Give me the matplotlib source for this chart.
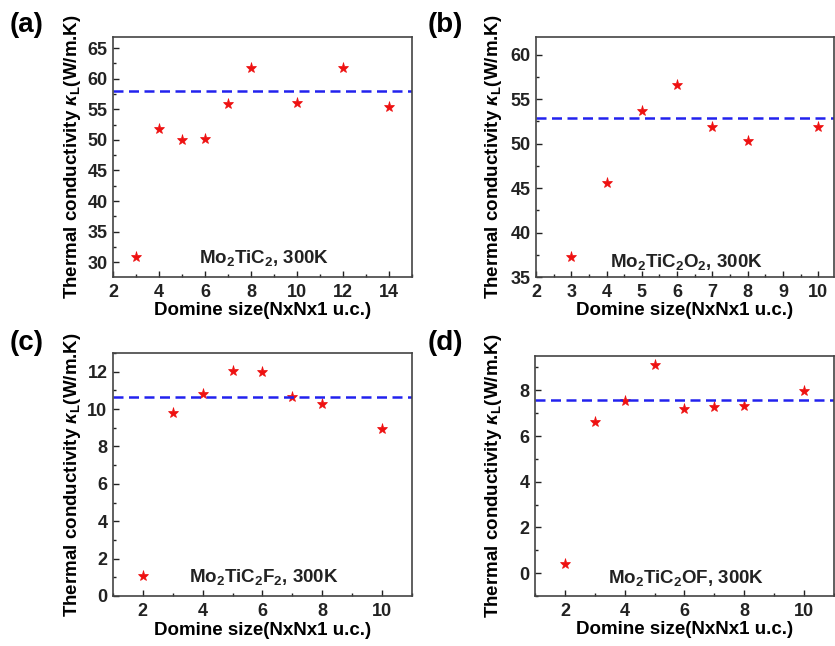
import matplotlib
matplotlib.use('Agg')
import matplotlib.pyplot as plt
from matplotlib.ticker import MultipleLocator

plt.rcParams['font.family'] = 'Liberation Sans'
plt.rcParams['font.weight'] = 'bold'
plt.rcParams['mathtext.fontset'] = 'custom'
plt.rcParams['mathtext.rm'] = 'Liberation Sans:bold'
plt.rcParams['mathtext.it'] = 'Liberation Sans:italic:bold'
plt.rcParams['mathtext.bf'] = 'Liberation Sans:bold'

# (a) Mo2TiC2
size_a = [3, 4, 5, 6, 7, 8, 10, 12, 14]
kappa_a = [30.9, 51.8, 49.9, 50.1, 55.9, 61.8, 56.0, 61.8, 55.3]
mean_a = 58.0

# (b) Mo2TiC2O2
size_b = [3, 4, 5, 6, 7, 8, 10]
kappa_b = [37.2, 45.6, 53.7, 56.6, 51.9, 50.3, 51.9]
mean_b = 52.9

# (c) Mo2TiC2F2
size_c = [2, 3, 4, 5, 6, 7, 8, 10]
kappa_c = [1.08, 9.8, 10.79, 12.05, 12.0, 10.65, 10.27, 8.93]
mean_c = 10.65

# (d) Mo2TiC2OF
size_d = [2, 3, 4, 5, 6, 7, 8, 10]
kappa_d = [0.39, 6.62, 7.52, 9.09, 7.2, 7.27, 7.3, 7.99]
mean_d = 7.56

panels = [
    dict(x=size_a, y=kappa_a, m=mean_a, tag='(a)', note=r'Mo$_2$TiC$_2$, 300K',
         pos=[0.1353, 0.5712, 0.358, 0.3715], xlim=(2, 15), ylim=(27.6, 66.8),
         xmaj=2, xmin=1, ymaj=5, ymin=2.5, notey=0.08, ylx=-0.1, tagxy=(10, 12)),
    dict(x=size_b, y=kappa_b, m=mean_b, tag='(b)', note=r'Mo$_2$TiC$_2$O$_2$, 300K',
         pos=[0.6419, 0.5712, 0.357, 0.3715], xlim=(2, 10.45), ylim=(35, 62),
         xmaj=1, xmin=0.5, ymaj=5, ymin=2.5, notey=0.062, ylx=-0.108, tagxy=(428, 12)),
    dict(x=size_c, y=kappa_c, m=mean_c, tag='(c)', note=r'Mo$_2$TiC$_2$F$_2$, 300K',
         pos=[0.1353, 0.0774, 0.358, 0.3762], xlim=(1, 11), ylim=(0, 13),
         xmaj=2, xmin=1, ymaj=2, ymin=1, notey=0.078, ylx=-0.1, tagxy=(10, 330)),
    dict(x=size_d, y=kappa_d, m=mean_d, tag='(d)', note=r'Mo$_2$TiC$_2$OF, 300K',
         pos=[0.6407, 0.0774, 0.358, 0.3715], xlim=(1, 11), ylim=(-1, 9.5),
         xmaj=2, xmin=1, ymaj=2, ymin=1, notey=0.075, ylx=-0.105, tagxy=(428, 330)),
]

fig = plt.figure(figsize=(8.35, 6.46), dpi=100)

for p in panels:
    ax = fig.add_axes(p['pos'])
    ax.plot(p['x'], p['y'], linestyle='none', marker='*', color='#ee1111',
            markersize=8, markeredgewidth=0.5)
    ax.axhline(p['m'], color='#2222ee', linestyle=(0, (4, 2.2)), linewidth=1.8)
    ax.set_xlim(*p['xlim'])
    ax.set_ylim(*p['ylim'])
    ax.xaxis.set_major_locator(MultipleLocator(p['xmaj']))
    ax.xaxis.set_minor_locator(MultipleLocator(p['xmin']))
    ax.yaxis.set_major_locator(MultipleLocator(p['ymaj']))
    ax.yaxis.set_minor_locator(MultipleLocator(p['ymin']))
    ax.tick_params(which='both', direction='in', top=False, right=False,
                   labelsize=13, colors='#222222')
    ax.tick_params(which='major', length=4, width=1)
    ax.tick_params(which='minor', length=2, width=1)
    ax.tick_params(axis='x', pad=5)
    ax.tick_params(axis='y', pad=4)
    for s in ax.spines.values():
        s.set_color('#444444')
        s.set_linewidth(1.2)
    ax.set_xlabel('Domine size(NxNx1 u.c.)', fontsize=13.5, fontweight='bold')
    ax.xaxis.set_label_coords(0.5, -0.105)
    ax.set_ylabel(r'Thermal conductivity $\kappa_\mathregular{L}$(W/m.K)',
                  fontsize=13.5, fontweight='bold')
    ax.yaxis.set_label_coords(p['ylx'], 0.5)
    ax.text(0.505, p['notey'], p['note'], transform=ax.transAxes, ha='center',
            va='center', fontsize=13.5, fontweight='bold', color='#222222')
    fig.text(p['tagxy'][0] / 835, 1 - p['tagxy'][1] / 646, p['tag'], ha='left',
             va='top', fontsize=20, fontweight='bold')

fig.savefig('out.png', dpi=100)
